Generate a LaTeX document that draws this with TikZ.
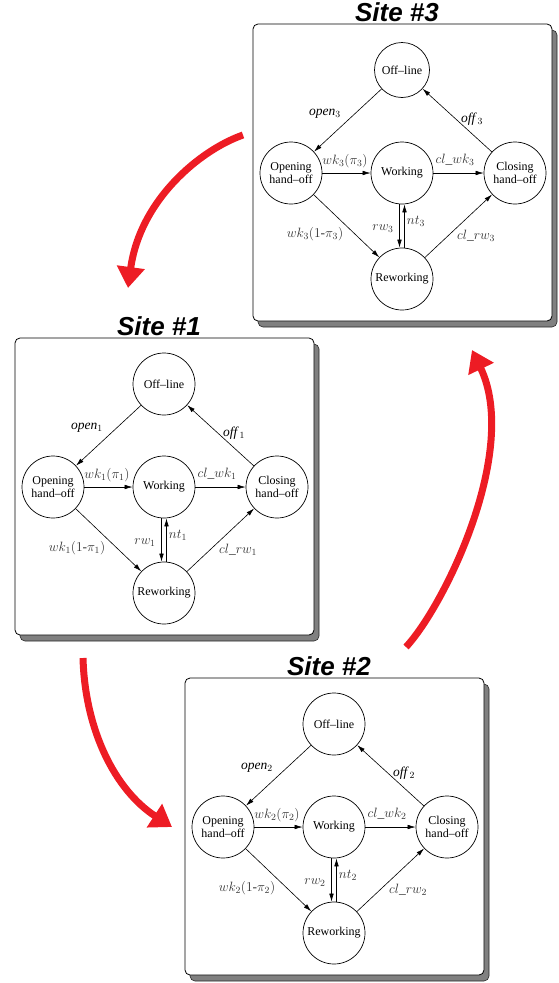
\documentclass[tikz,border=0pt]{standalone}
\usepackage{fix-cm}
\usepackage{fontspec}
\setmainfont{Liberation Serif}
\newfontfamily\titlefont{Liberation Sans}
\usetikzlibrary{arrows.meta}
\definecolor{redarrow}{RGB}{237,28,36}
\definecolor{shadowgray}{RGB}{128,128,128}
\tikzset{
  state/.style={circle, draw, line width=0.7pt, inner sep=0pt, minimum size=62pt,
    font=\fontsize{12}{13}\selectfont, align=center},
  trans/.style={draw, line width=0.6pt, -{Latex[length=8pt,width=4.5pt]}},
  lab/.style={inner sep=0pt, text=black!80, font=\fontsize{13.5}{15}\selectfont},
  textlab/.style={lab, text=black},
  sitetitle/.style={font=\titlefont\bfseries\itshape\fontsize{26}{28}\selectfont, inner sep=0pt},
  sitebox/.style={draw, line width=0.8pt, fill=white, rounded corners=5pt},
  siteshadow/.style={fill=shadowgray, draw=black!85, line width=0.6pt, rounded corners=5pt},
  bigarrow/.style={draw=redarrow, line width=7pt, -{Triangle[length=21pt,width=27pt]}}
}
\newcommand\drawsite[4]{%
  \begin{scope}[shift={(#1,#2)}]
    \path[siteshadow] (5,6) rectangle (304,303);
    \path[sitebox] (0,0) rectangle (299,297);
    \node[sitetitle] (title#3) at (144,-12) {Site \##3};
    \node[state, minimum size=#4] (off#3) at (149,46) {Off--line};
    \node[state] (open#3) at (38,149) {Opening\\hand--off};
    \node[state] (work#3) at (149,149) {Working};
    \node[state] (close#3) at (262,149) {Closing\\hand--off};
    \node[state] (rew#3) at (149,255) {Reworking};
    \draw[trans] (off#3) -- (open#3);
    \draw[trans] (close#3) -- (off#3);
    \draw[trans] (open#3) -- (work#3);
    \draw[trans] (work#3) -- (close#3);
    \draw[trans] (open#3) -- (rew#3);
    \draw[trans] (rew#3) -- (close#3);
    \draw[trans] ([xshift=-2.5pt]work#3.south) -- ([xshift=-2.5pt]rew#3.north);
    \draw[trans] ([xshift=2.5pt]rew#3.north) -- ([xshift=2.5pt]work#3.south);
    \node[textlab] (lopen#3) at (72,90) {\itshape open$_{#3}$};
    \node[textlab] (loff#3) at (219,95) {\itshape off$\,_{#3}$};
    \node[lab] (lwk#3) at (92,137) {$wk_{#3}(\pi_{#3})$};
    \node[lab] (lclwk#3) at (202,136) {$cl\_wk_{#3}$};
    \node[lab] (lwkr#3) at (62,210) {$wk_{#3}(1\mbox{-}\pi_{#3})$};
    \node[lab] (lrw#3) at (130,205) {$rw_{#3}$};
    \node[lab] (lnt#3) at (163,197) {$nt_{#3}$};
    \node[lab] (lclrw#3) at (223,212) {$cl\_rw_{#3}$};
  \end{scope}}
\begin{document}
\begin{tikzpicture}[x=1pt,y=-1pt]
  \useasboundingbox (0,0) rectangle (558,983);
  \drawsite{253}{24}{3}{55pt}
  \drawsite{15}{338}{1}{62pt}
  \drawsite{185}{678}{2}{62pt}
  \coordinate (a1s) at (243,135);
  \coordinate (a1e) at (128,288);
  \coordinate (a2s) at (83,658);
  \coordinate (a2e) at (172,827);
  \coordinate (a3s) at (406,647);
  \coordinate (a3e) at (472,350);
  \draw[bigarrow] (a1s) .. controls (200,150) and (140,200) .. (a1e);
  \draw[bigarrow] (a2s) .. controls (85,730) and (115,790) .. (a2e);
  \draw[bigarrow] (a3s) .. controls (445,605) and (520,450) .. (a3e);
\end{tikzpicture}
\end{document}
